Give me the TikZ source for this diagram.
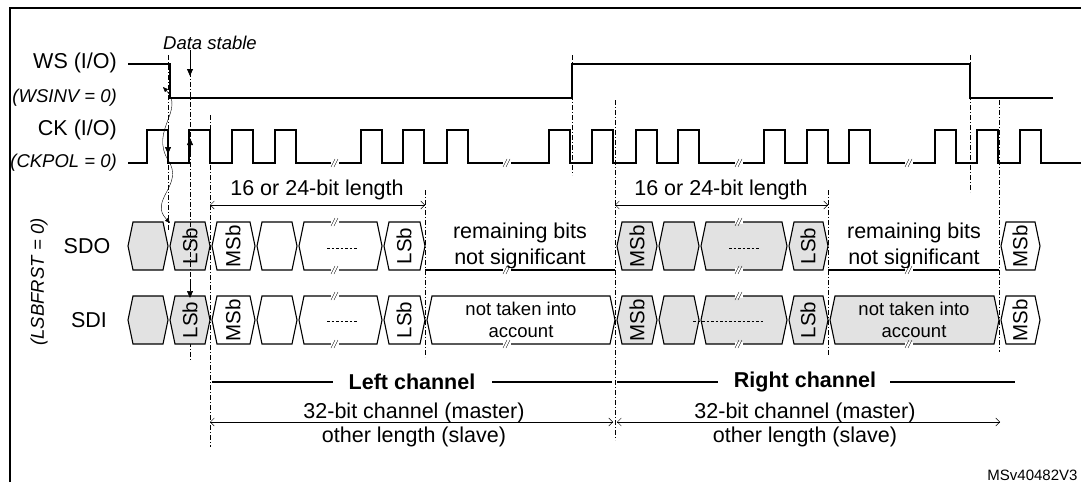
\documentclass[tikz,border=0pt]{standalone}
\usepackage{fontspec}
\setmainfont{Liberation Sans}
\usetikzlibrary{arrows.meta}
\definecolor{cellgray}{HTML}{E2E2E2}
\newcommand\hexcell[4]{% x1 x2 ytop fill
  \filldraw[sig,fill=#4] (#1,#3+24) -- ({#1+5},#3) -- ({#2-5},#3) -- (#2,#3+24) -- ({#2-5},#3+48) -- ({#1+5},#3+48) -- cycle;}
\newcommand\brk[2]{%
  \fill[white] ({#1-4},{#2-2}) rectangle ({#1+4},{#2+2});
  \draw[thin] ({#1-4},{#2+4}) -- ({#1},{#2-4}) ({#1-1},{#2+4}) -- ({#1+3},{#2-4});}
\newcommand\dotsline[3]{\draw[thick,dash pattern=on 2.5pt off 2pt] (#1,#3) -- (#2,#3);}
\begin{document}
\begin{tikzpicture}[x=1pt,y=-1pt,
  sig/.style={line width=1.1pt},
  dd/.style={thin,dash pattern=on 5pt off 2pt on 1pt off 2pt},
  lbl/.style={font=\fontsize{21.5}{24}\selectfont,inner sep=1pt},
  it/.style={font=\fontsize{18.5}{21}\selectfont\itshape,inner sep=1pt},
  bit/.style={font=\fontsize{20.5}{22}\selectfont,rotate=90,inner sep=0pt},
  txt/.style={font=\fontsize{21.5}{26}\selectfont,align=center,inner sep=0pt},
  small/.style={font=\fontsize{18.5}{21.5}\selectfont,align=center,inner sep=0pt},
  dim/.style={thin,{Straight Barb[length=4pt,width=8pt]}-{Straight Barb[length=4pt,width=8pt]}},
  ar/.style={-{Triangle[length=7pt,width=6pt]}}]
\useasboundingbox (0,0) rectangle (1081,482);
\draw[line width=1.5pt] (10,482) -- (10,8) -- (1081,8);
% labels
\node[lbl,anchor=east] (ws) at (118,63) {WS (I/O)};
\node[it,anchor=east] (wsinv) at (118,98) {(WSINV = 0)};
\node[lbl,anchor=east] (ck) at (118,130) {CK (I/O)};
\node[it,anchor=east] (ckpol) at (118,163) {(CKPOL = 0)};
\node[lbl] (sdo) at (87,246) {SDO};
\node[lbl] (sdi) at (89,320) {SDI};
\node[it,rotate=90] (lsbf) at (39,282) {(LSBFRST = 0)};
\node[it] (ds) at (210,43) {Data stable};
% dash-dot guides
\draw[dd] (168,55) -- (168,230);
\draw[dd] (190,62) -- (190,360);
\draw[dd] (210,115) -- (210,447);
\draw[dd] (425,190) -- (425,357);
\draw[dd] (572,55) -- (572,175);
\draw[dd] (615,100) -- (615,440);
\draw[dd] (828,190) -- (828,355);
\draw[dd] (970,55) -- (970,192);
\draw[dd] (999,100) -- (999,352);
% WS
\draw[sig] (128,64) -- (170,64) -- (170,98) -- (572,98) -- (572,64) -- (970,64) -- (970,98) -- (1053,98);
% CK
\draw[sig] (128,163) foreach \r in {147,189,232,275,361,403,447,549,592,636,678,764,807,849,935,977,1020}
  { -- (\r,163) -- (\r,130) -- ({\r+21},130) -- ({\r+21},163)} -- (1081,163);
\foreach \b in {335,507,739,909} \brk{\b}{163};
% SDO row
\hexcell{128}{168}{222}{cellgray}
\hexcell{170}{210}{222}{cellgray}
\hexcell{212}{255}{222}{white}
\hexcell{257}{297}{222}{white}
\hexcell{299}{382}{222}{white}
\hexcell{384}{425}{222}{white}
\draw[sig] (425,270) -- (615,270);
\hexcell{617}{657}{222}{cellgray}
\hexcell{659}{699}{222}{cellgray}
\hexcell{701}{787}{222}{cellgray}
\hexcell{789}{828}{222}{cellgray}
\draw[sig] (828,270) -- (999,270);
\hexcell{1001}{1040}{222}{white}
\node[bit] (o1) at (190,246) {LSb};
\node[bit] (o2) at (233,246) {MSb};
\dotsline{327}{357}{248}
\node[bit] (o4) at (404,246) {LSb};
\node[txt] (o5) at (520,246) {remaining bits\\not significant};
\node[bit] (o6) at (637,246) {MSb};
\dotsline{729}{760}{248}
\node[bit] (o8) at (808,246) {LSb};
\node[txt] (o9) at (914,246) {remaining bits\\not significant};
\node[bit] (o10) at (1020,246) {MSb};
\foreach \b in {335,739} \brk{\b}{222};
\foreach \b in {335,507,739,909} \brk{\b}{270};
% SDI row
\hexcell{128}{168}{296}{cellgray}
\hexcell{170}{210}{296}{cellgray}
\hexcell{212}{255}{296}{white}
\hexcell{257}{297}{296}{white}
\hexcell{299}{382}{296}{white}
\hexcell{384}{425}{296}{white}
\hexcell{427}{615}{296}{white}
\hexcell{617}{657}{296}{cellgray}
\hexcell{659}{699}{296}{cellgray}
\hexcell{701}{787}{296}{cellgray}
\hexcell{789}{828}{296}{cellgray}
\hexcell{830}{999}{296}{cellgray}
\hexcell{1001}{1040}{296}{white}
\node[bit] (i1) at (190,320) {LSb};
\node[bit] (i2) at (233,320) {MSb};
\dotsline{327}{357}{321}
\node[bit] (i4) at (404,320) {LSb};
\node[small] (i5) at (521,320) {not taken into\\account};
\node[bit] (i6) at (637,320) {MSb};
\dotsline{693}{763}{321}
\node[bit] (i8) at (808,320) {LSb};
\node[small] (i9) at (914,320) {not taken into\\account};
\node[bit] (i10) at (1020,320) {MSb};
\foreach \b in {335,739} {\brk{\b}{296}\brk{\b}{344}}
\foreach \b in {507,909} \brk{\b}{344};
\draw[dd] (190,222) -- (190,296);
% arrows
\coordinate (dsA) at (190,50);
\coordinate (dsB) at (190,76);
\draw[ar,line width=0.8pt] (dsA) -- (dsB);
\coordinate (ckd1) at (168,138); \coordinate (ckd2) at (168,154);
\draw[ar,line width=0.6pt] (ckd1) -- (ckd2);
\coordinate (cku1) at (190,154); \coordinate (cku2) at (190,138);
\draw[ar,line width=0.6pt] (cku1) -- (cku2);
\coordinate (sdiA) at (190,280); \coordinate (sdiB) at (190,298);
\draw[ar,line width=0.6pt] (sdiA) -- (sdiB);
\coordinate (wv1) at (163,87); \coordinate (wv2) at (168,160); \coordinate (wv3) at (170,223);
\draw[thin,{Triangle[length=5pt,width=4pt]}-{Triangle[length=5pt,width=4pt]}]
  (wv1) .. controls (185,110) and (150,130) .. (wv2) .. controls (185,185) and (148,200) .. (wv3);
% dimension: 16 or 24
\coordinate (d1a) at (210,205); \coordinate (d1b) at (425,205);
\draw[dim] (d1a) -- (d1b);
\node[lbl] (d1t) at (317,190) {16 or 24-bit length};
\coordinate (d2a) at (615,205); \coordinate (d2b) at (828,205);
\draw[dim] (d2a) -- (d2b);
\node[lbl] (d2t) at (721,190) {16 or 24-bit length};
% channels
\node[lbl,font=\fontsize{21.5}{24}\selectfont\bfseries] (lc) at (412,382) {Left channel};
\draw[line width=2pt] (212,382) -- (333,382) (492,382) -- (612,382);
\node[lbl,font=\fontsize{21.5}{24}\selectfont\bfseries] (rc) at (805,382) {Right channel};
\draw[line width=2pt] (617,382) -- (718,382) (890,382) -- (1015,382);
\coordinate (c1a) at (210,422); \coordinate (c1b) at (613,422);
\draw[dim] (c1a) -- (c1b);
\coordinate (c2a) at (617,422); \coordinate (c2b) at (1000,422);
\draw[dim] (c2a) -- (c2b);
\node[lbl] (c1t) at (414,413) {32-bit channel (master)};
\node[lbl] (c1s) at (414,437) {other length (slave)};
\node[lbl] (c2t) at (805,413) {32-bit channel (master)};
\node[lbl] (c2s) at (805,437) {other length (slave)};
\node[font=\fontsize{15}{17}\selectfont,anchor=east] (ref) at (1081,475) {MSv40482V3};
\end{tikzpicture}
\end{document}
